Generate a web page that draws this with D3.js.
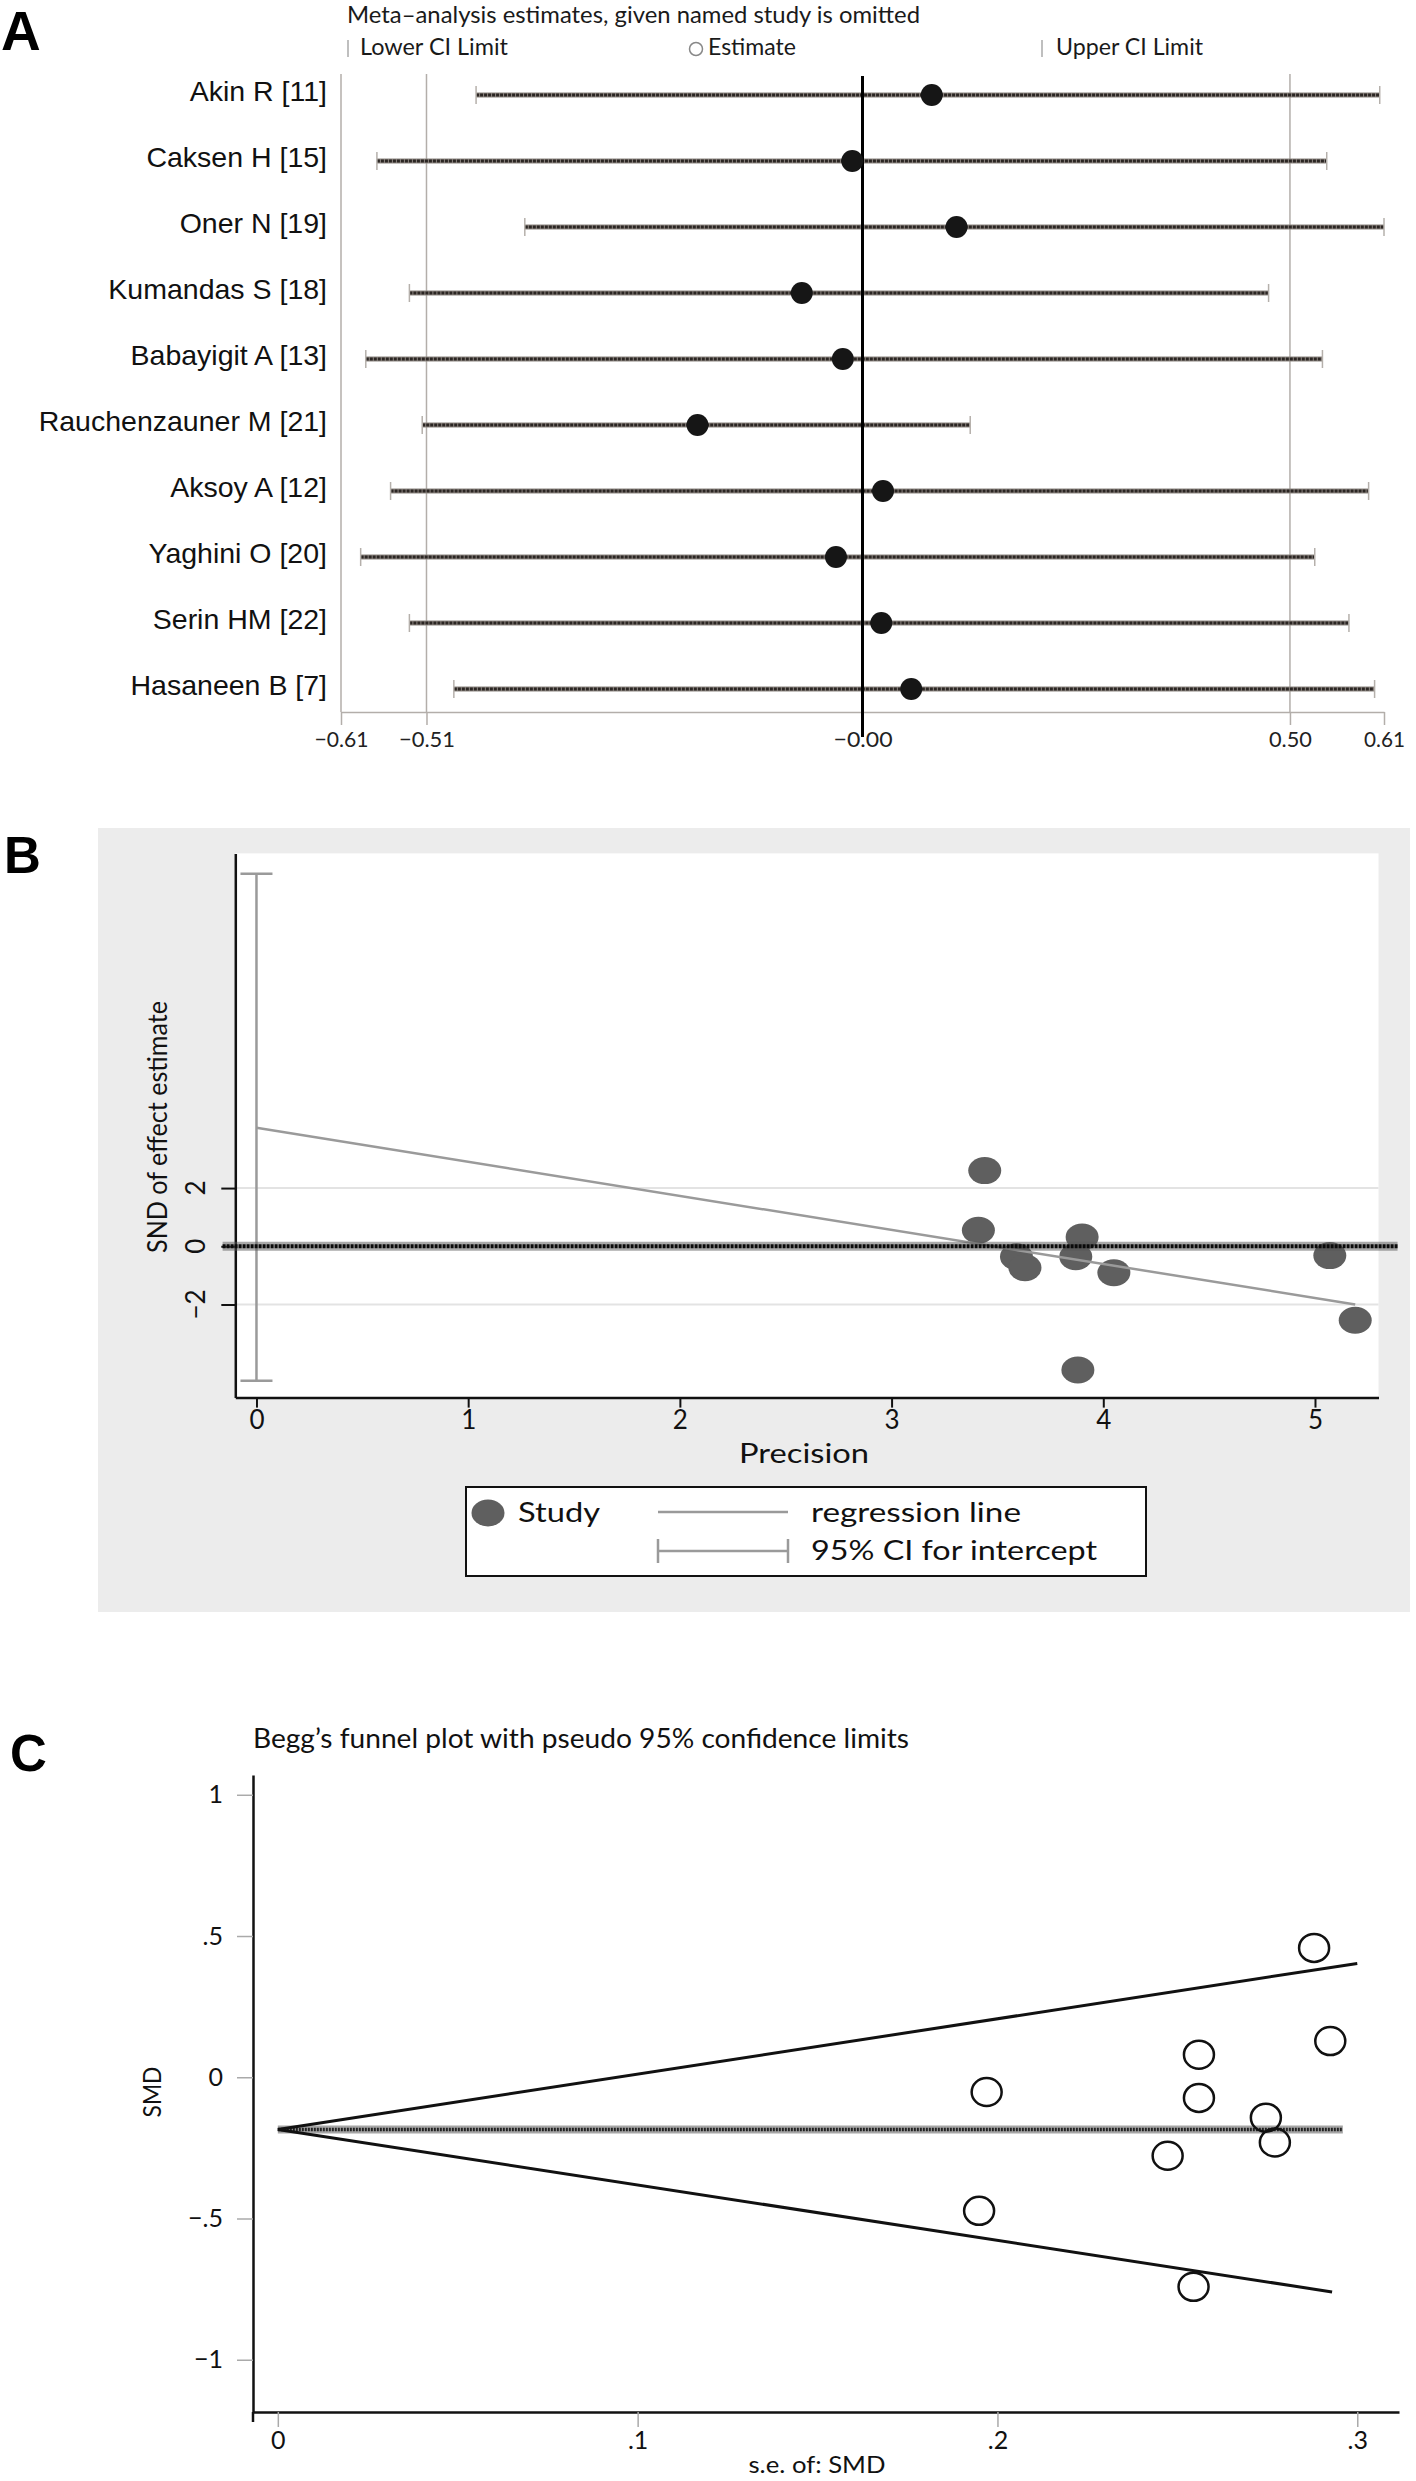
<!DOCTYPE html>
<html><head><meta charset="utf-8">
<script src="https://cdn.jsdelivr.net/npm/d3@7"></script>
<style>body{margin:0;background:#fff;} svg{display:block}</style>
</head><body>
<svg id="chart" width="1416" height="2481"></svg>
<script>
// ---------- Panel A: leave-one-out sensitivity ----------
const studies = ["Akin R [11]", "Caksen H [15]", "Oner N [19]", "Kumandas S [18]", "Babayigit A [13]",
  "Rauchenzauner M [21]", "Aksoy A [12]", "Yaghini O [20]", "Serin HM [22]", "Hasaneen B [7]"];
const estimates = [0.081, -0.012, 0.110, -0.071, -0.023, -0.193, 0.024, -0.031, 0.022, 0.057];
const lowerCI   = [-0.452, -0.568, -0.395, -0.530, -0.581, -0.515, -0.552, -0.587, -0.530, -0.478];
const upperCI   = [0.605, 0.543, 0.610, 0.475, 0.538, 0.126, 0.592, 0.529, 0.569, 0.599];
const axisTicksA = [-0.61, -0.51, 0, 0.50, 0.61];
const axisTickLabelsA = ["\u22120.61", "\u22120.51", "\u22120.00", "0.50", "0.61"];
const refLinesA = [-0.61, -0.51, 0.50];
const titleA = "Meta\u2013analysis estimates, given named study is omitted";
const legendA = ["Lower CI Limit", "Estimate", "Upper CI Limit"];

// ---------- Panel B: Egger's regression ----------
const precision = [3.44, 3.41, 3.90, 3.59, 3.63, 3.87, 4.05, 5.07, 5.19, 3.88];
const sndEffect = [2.60, 0.55, 0.32, -0.36, -0.74, -0.36, -0.91, -0.32, -2.54, -4.25];
const regressionLine = [[0, 4.07], [5.19, -2.00]];
const interceptCI = [-4.62, 12.8];
const xTicksB = [0, 1, 2, 3, 4, 5];
const yTicksB = [-2, 0, 2];
const yTickLabelsB = ["\u22122", "0", "2"];
const legendB = ["Study", "regression line", "95% CI for intercept"];

// ---------- Panel C: Begg's funnel ----------
const seSMD = [0.288, 0.2925, 0.256, 0.197, 0.256, 0.2746, 0.2771, 0.2473, 0.1949, 0.2545];
const smd   = [0.458, 0.128, 0.080, -0.052, -0.073, -0.143, -0.231, -0.278, -0.473, -0.742];
const pooledLine = [[0, -0.185], [0.296, -0.185]];
const funnelUpper = [[0, -0.185], [0.300, 0.403]];
const funnelLower = [[0, -0.185], [0.293, -0.760]];
const xTicksC = [0, 0.1, 0.2, 0.3];
const xTickLabelsC = ["0", ".1", ".2", ".3"];
const yTicksC = [1, 0.5, 0, -0.5, -1];
const yTickLabelsC = ["1", ".5", "0", "\u2212.5", "\u22121"];
const titleC = "Begg\u2019s funnel plot with pseudo 95% confidence limits";

const FONT = "Lato, 'Open Sans', sans-serif";
const ARIAL = "'Liberation Sans', Arial, Helvetica, sans-serif";
const svg = d3.select("#chart");

// ======================= PANEL A =======================
const gA = svg.append("g");
const xA = d3.scaleLinear().domain([-0.61, 0.61]).range([341, 1384]);
const yA = d3.scalePoint().domain(studies).range([95, 689]);
const topA = 74, bottomA = 712;
const tickLabelWidthsA = [54, 56, 59, 43, 41];

gA.append("text").attr("x", 1).attr("y", 50).attr("font-family", ARIAL)
  .attr("font-weight", "bold").attr("font-size", 55).text("A");

gA.append("text").attr("x", 347).attr("y", 23).attr("font-family", FONT).attr("font-size", 24)
  .attr("textLength", 573).attr("lengthAdjust", "spacingAndGlyphs").attr("fill", "#1a1a1a").text(titleA);

// legend row
const legA = gA.append("g").attr("font-family", FONT).attr("font-size", 23).attr("fill", "#1a1a1a");
legA.append("line").attr("x1", 348).attr("x2", 348).attr("y1", 40).attr("y2", 57).attr("stroke", "#aaa").attr("stroke-width", 1.5);
legA.append("text").attr("x", 360).attr("y", 55).attr("textLength", 148).attr("lengthAdjust", "spacingAndGlyphs").text(legendA[0]);
legA.append("circle").attr("cx", 696).attr("cy", 49).attr("r", 6.5).attr("fill", "none").attr("stroke", "#888").attr("stroke-width", 1.5);
legA.append("text").attr("x", 708).attr("y", 55).attr("textLength", 88).attr("lengthAdjust", "spacingAndGlyphs").text(legendA[1]);
legA.append("line").attr("x1", 1042).attr("x2", 1042).attr("y1", 40).attr("y2", 57).attr("stroke", "#aaa").attr("stroke-width", 1.5);
legA.append("text").attr("x", 1056).attr("y", 55).attr("textLength", 147).attr("lengthAdjust", "spacingAndGlyphs").text(legendA[2]);

// reference lines
gA.selectAll(".refA").data(refLinesA).join("line")
  .attr("x1", d => xA(d)).attr("x2", d => xA(d)).attr("y1", topA).attr("y2", bottomA)
  .attr("stroke", "#b3aeaa").attr("stroke-width", 1.5);

// axis
const axA = d3.axisBottom(xA).tickValues(axisTicksA).tickFormat((d, i) => axisTickLabelsA[i])
  .tickSize(13).tickSizeOuter(0).tickPadding(6);
gA.append("g").attr("transform", `translate(0,${bottomA})`).call(axA).call(g => {
  g.select(".domain").attr("stroke", "#b3aeaa").attr("stroke-width", 1.5);
  g.selectAll(".tick line").attr("stroke", "#b3aeaa").attr("stroke-width", 1.5);
  g.selectAll(".tick text").attr("font-family", FONT).attr("font-size", 22).attr("fill", "#222")
    .attr("textLength", (d, i) => tickLabelWidthsA[i]).attr("lengthAdjust", "spacingAndGlyphs");
});

const rowsA = studies.map((s, i) => ({ s, est: estimates[i], lo: lowerCI[i], hi: upperCI[i] }));

// CI lines
gA.selectAll(".ciHalo").data(rowsA).join("line")
  .attr("x1", d => xA(d.lo)).attr("x2", d => xA(d.hi)).attr("y1", d => yA(d.s)).attr("y2", d => yA(d.s))
  .attr("stroke", "#8c8580").attr("stroke-width", 5);
gA.selectAll(".ciCore").data(rowsA).join("line")
  .attr("x1", d => xA(d.lo)).attr("x2", d => xA(d.hi)).attr("y1", d => yA(d.s)).attr("y2", d => yA(d.s))
  .attr("stroke", "#2b2623").attr("stroke-width", 3).attr("stroke-dasharray", "3,1");
gA.selectAll(".capLo").data(rowsA).join("line")
  .attr("x1", d => xA(d.lo)).attr("x2", d => xA(d.lo)).attr("y1", d => yA(d.s) - 9).attr("y2", d => yA(d.s) + 9)
  .attr("stroke", "#b5b0ab").attr("stroke-width", 1.5);
gA.selectAll(".capHi").data(rowsA).join("line")
  .attr("x1", d => xA(d.hi)).attr("x2", d => xA(d.hi)).attr("y1", d => yA(d.s) - 9).attr("y2", d => yA(d.s) + 9)
  .attr("stroke", "#b5b0ab").attr("stroke-width", 1.5);

// zero line
gA.append("line").attr("x1", xA(0)).attr("x2", xA(0)).attr("y1", 76).attr("y2", 737)
  .attr("stroke", "#000").attr("stroke-width", 3);

// estimates
gA.selectAll(".est").data(rowsA).join("circle")
  .attr("cx", d => xA(d.est)).attr("cy", d => yA(d.s)).attr("r", 11).attr("fill", "#161616");

// study labels
gA.selectAll(".lab").data(rowsA).join("text")
  .attr("x", 327).attr("y", d => yA(d.s) + 6).attr("text-anchor", "end")
  .attr("font-family", ARIAL).attr("font-size", 28.5).attr("fill", "#111").text(d => d.s);

// ======================= PANEL B =======================
const gB = svg.append("g");
gB.append("rect").attr("x", 98).attr("y", 828).attr("width", 1312).attr("height", 784).attr("fill", "#ececec");
gB.append("text").attr("x", 4).attr("y", 873).attr("font-family", ARIAL)
  .attr("font-weight", "bold").attr("font-size", 51).text("B");

const xB = d3.scaleLinear().domain([-0.1, 5.3]).range([235.3, 1378.5]);
const yB = d3.scaleLinear().domain([-5.2, 13.5]).range([1397.6, 853.4]);

gB.append("rect").attr("x", xB(-0.1)).attr("y", yB(13.5)).attr("width", xB(5.3) - xB(-0.1))
  .attr("height", yB(-5.2) - yB(13.5)).attr("fill", "#fff");

// gridlines at +/-2
gB.selectAll(".gridB").data([-2, 2]).join("line")
  .attr("x1", xB(-0.1)).attr("x2", xB(5.3)).attr("y1", d => yB(d)).attr("y2", d => yB(d))
  .attr("stroke", "#e3e3e3").attr("stroke-width", 2);

// x axis
const axBx = d3.axisBottom(xB).tickValues(xTicksB).tickFormat(d3.format("d")).tickSize(10).tickSizeOuter(0).tickPadding(3);
gB.append("g").attr("transform", `translate(0,${yB(-5.2)})`).call(axBx).call(g => {
  g.select(".domain").attr("stroke", "#111").attr("stroke-width", 2.5);
  g.selectAll(".tick line").attr("stroke", "#111").attr("stroke-width", 2);
  g.selectAll(".tick text").attr("font-family", FONT).attr("font-size", 26).attr("fill", "#111");
});
// y axis
const axBy = d3.axisLeft(yB).tickValues(yTicksB).tickFormat("").tickSize(14).tickSizeOuter(0);
gB.append("g").attr("transform", `translate(${xB(-0.1)},0)`).call(axBy).call(g => {
  g.select(".domain").attr("stroke", "#111").attr("stroke-width", 2.5);
  g.selectAll(".tick line").attr("stroke", "#111").attr("stroke-width", 2);
});
gB.selectAll(".ylabB").data(yTicksB).join("text")
  .attr("transform", d => `translate(205,${yB(d)}) rotate(-90)`).attr("text-anchor", "middle")
  .attr("font-family", FONT).attr("font-size", 26).attr("fill", "#111")
  .text((d, i) => yTickLabelsB[i]);

gB.append("text").attr("transform", "translate(167,1127) rotate(-90)").attr("text-anchor", "middle")
  .attr("font-family", FONT).attr("font-size", 26).attr("fill", "#111")
  .attr("textLength", 252).attr("lengthAdjust", "spacingAndGlyphs").text("SND of effect estimate");
gB.append("text").attr("x", 804).attr("y", 1463).attr("text-anchor", "middle")
  .attr("font-family", FONT).attr("font-size", 26).attr("fill", "#111")
  .attr("textLength", 130).attr("lengthAdjust", "spacingAndGlyphs").text("Precision");

// CI for intercept
const ciG = gB.append("g").attr("stroke", "#9a9a9a").attr("stroke-width", 2.5);
ciG.append("line").attr("x1", xB(0)).attr("x2", xB(0)).attr("y1", yB(interceptCI[0])).attr("y2", yB(interceptCI[1]));
ciG.selectAll(".cap").data(interceptCI).join("line")
  .attr("x1", xB(0) - 16).attr("x2", xB(0) + 16).attr("y1", d => yB(d)).attr("y2", d => yB(d));

// points
const ptsB = precision.map((p, i) => ({ p, s: sndEffect[i] }));
gB.selectAll(".ptB").data(ptsB).join("ellipse")
  .attr("cx", d => xB(d.p)).attr("cy", d => yB(d.s)).attr("rx", 16.5).attr("ry", 13.5)
  .attr("fill", "#5f5f5f");

// regression line
gB.append("path").datum(regressionLine)
  .attr("d", d3.line().x(d => xB(d[0])).y(d => yB(d[1])))
  .attr("stroke", "#9a9a9a").attr("stroke-width", 2.5).attr("fill", "none");

// zero line (thick)
gB.append("line").attr("x1", xB(-0.16)).attr("x2", xB(5.39)).attr("y1", yB(0)).attr("y2", yB(0))
  .attr("stroke", "#555").attr("stroke-opacity", 0.5).attr("stroke-width", 9);
gB.append("line").attr("x1", xB(-0.16)).attr("x2", xB(5.39)).attr("y1", yB(0)).attr("y2", yB(0))
  .attr("stroke", "#0a0a0a").attr("stroke-width", 4).attr("stroke-dasharray", "3,1");

// legend
const legB = gB.append("g").attr("font-family", FONT).attr("font-size", 27).attr("fill", "#111");
legB.append("rect").attr("x", 466).attr("y", 1487).attr("width", 680).attr("height", 89)
  .attr("fill", "#fff").attr("stroke", "#111").attr("stroke-width", 2);
legB.append("ellipse").attr("cx", 488).attr("cy", 1513).attr("rx", 16.5).attr("ry", 13.5).attr("fill", "#5f5f5f");
legB.append("text").attr("x", 518).attr("y", 1522).attr("textLength", 82).attr("lengthAdjust", "spacingAndGlyphs").text(legendB[0]);
legB.append("line").attr("x1", 658).attr("x2", 788).attr("y1", 1512).attr("y2", 1512).attr("stroke", "#9a9a9a").attr("stroke-width", 2.5);
legB.append("text").attr("x", 811).attr("y", 1522).attr("textLength", 210).attr("lengthAdjust", "spacingAndGlyphs").text(legendB[1]);
const legCI = legB.append("g").attr("stroke", "#9a9a9a").attr("stroke-width", 2.5);
legCI.append("line").attr("x1", 658).attr("x2", 788).attr("y1", 1551).attr("y2", 1551);
legCI.append("line").attr("x1", 658).attr("x2", 658).attr("y1", 1539).attr("y2", 1563);
legCI.append("line").attr("x1", 788).attr("x2", 788).attr("y1", 1539).attr("y2", 1563);
legB.append("text").attr("x", 811).attr("y", 1560).attr("textLength", 286).attr("lengthAdjust", "spacingAndGlyphs").text(legendB[2]);

// ======================= PANEL C =======================
const gC = svg.append("g");
gC.append("text").attr("x", 10).attr("y", 1771).attr("font-family", ARIAL)
  .attr("font-weight", "bold").attr("font-size", 51).text("C");
gC.append("text").attr("x", 253).attr("y", 1748).attr("font-family", FONT).attr("font-size", 26)
  .attr("textLength", 656).attr("lengthAdjust", "spacingAndGlyphs").attr("fill", "#111").text(titleC);

const xC = d3.scaleLinear().domain([-0.0069, 0.3116]).range([253, 1399]);
const yC = d3.scaleLinear().domain([-1.185, 1.07]).range([2412, 1775]);

const axCx = d3.axisBottom(xC).tickValues(xTicksC).tickFormat((d, i) => xTickLabelsC[i])
  .tickSize(15).tickSizeOuter(0).tickPadding(4);
gC.append("g").attr("transform", `translate(0,${yC(-1.185)})`).call(axCx).call(g => {
  g.select(".domain").attr("stroke", "#111").attr("stroke-width", 2.5);
  g.selectAll(".tick line").attr("stroke", "#aaa").attr("stroke-width", 1.5);
  g.selectAll(".tick text").attr("font-family", FONT).attr("font-size", 25).attr("fill", "#111");
});
const axCy = d3.axisLeft(yC).tickValues(yTicksC).tickFormat((d, i) => yTickLabelsC[i])
  .tickSize(16).tickSizeOuter(0).tickPadding(14);
gC.append("g").attr("transform", `translate(${xC(-0.0069)},0)`).call(axCy).call(g => {
  g.select(".domain").attr("stroke", "#111").attr("stroke-width", 2.5);
  g.selectAll(".tick line").attr("stroke", "#aaa").attr("stroke-width", 1.5);
  g.selectAll(".tick text").attr("font-family", FONT).attr("font-size", 25).attr("fill", "#111");
});
// small extension of y axis below x axis
gC.append("line").attr("x1", xC(-0.0069)).attr("x2", xC(-0.0069)).attr("y1", yC(-1.185)).attr("y2", yC(-1.185) + 10)
  .attr("stroke", "#111").attr("stroke-width", 2.5);

gC.append("text").attr("x", 817).attr("y", 2473).attr("text-anchor", "middle")
  .attr("font-family", FONT).attr("font-size", 24).attr("fill", "#111")
  .attr("textLength", 137).attr("lengthAdjust", "spacingAndGlyphs").text("s.e. of: SMD");
gC.append("text").attr("transform", "translate(161,2092) rotate(-90)").attr("text-anchor", "middle")
  .attr("font-family", FONT).attr("font-size", 25).attr("fill", "#111")
  .attr("textLength", 51).attr("lengthAdjust", "spacingAndGlyphs").text("SMD");

const lineC = d3.line().x(d => xC(d[0])).y(d => yC(d[1]));
// pooled estimate (thick textured)
gC.append("path").datum(pooledLine).attr("d", lineC).attr("fill", "none")
  .attr("stroke", "#6a6a6a").attr("stroke-opacity", 0.6).attr("stroke-width", 8);
gC.append("path").datum(pooledLine).attr("d", lineC).attr("fill", "none")
  .attr("stroke", "#222").attr("stroke-width", 3.5).attr("stroke-dasharray", "2,1");
// funnel limits
[funnelUpper, funnelLower].forEach(l => {
  gC.append("path").datum(l).attr("d", lineC).attr("fill", "none")
    .attr("stroke", "#111").attr("stroke-width", 3);
});
// studies
const ptsC = seSMD.map((s, i) => ({ s, v: smd[i] }));
gC.selectAll(".ptC").data(ptsC).join("ellipse")
  .attr("cx", d => xC(d.s)).attr("cy", d => yC(d.v)).attr("rx", 15).attr("ry", 14)
  .attr("fill", "none").attr("stroke", "#111").attr("stroke-width", 2.5);
</script>
</body></html>
